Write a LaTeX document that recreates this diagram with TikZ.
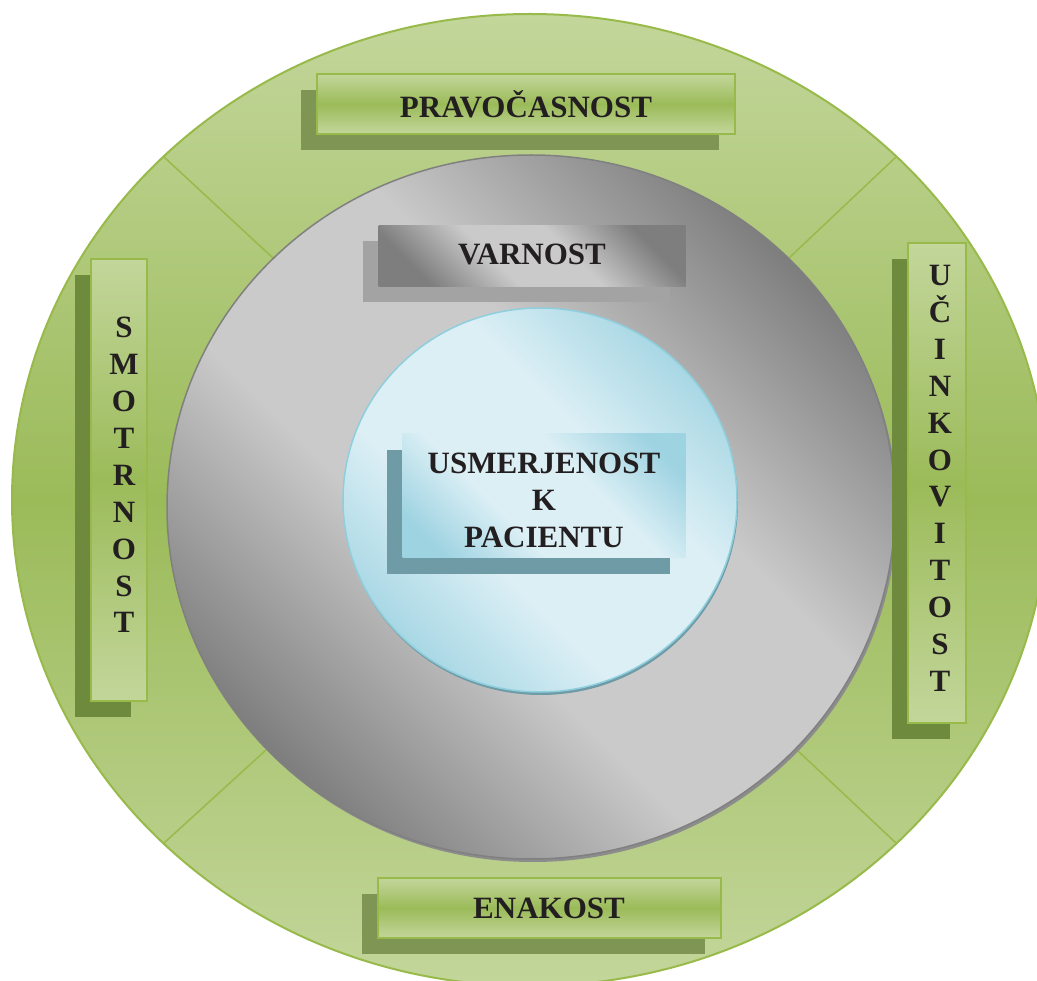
\documentclass[tikz,border=0pt]{standalone}
\usepackage{fontspec}
\setmainfont{Liberation Serif}
\usetikzlibrary{shadows}

\definecolor{gLight}{HTML}{C3D69B}
\definecolor{gMid}{HTML}{9BBB59}
\definecolor{gLine}{HTML}{98BA4A}
\definecolor{shOlive}{HTML}{7F9553}
\definecolor{shGreen}{HTML}{6E8B3D}
\definecolor{mDark}{HTML}{7E7E7E}
\definecolor{mLight}{HTML}{CACACA}
\definecolor{cDark}{HTML}{9ED3E1}
\definecolor{cLight}{HTML}{DCEFF5}
\definecolor{cLine}{HTML}{8ECEDD}
\definecolor{shTeal}{HTML}{6E9BA6}
\definecolor{shGray}{HTML}{A3A3A3}
\definecolor{txt}{HTML}{231F20}

\pgfdeclarehorizontalshading{metal}{100bp}{color(0bp)=(mDark); color(25bp)=(mDark); color(42bp)=(mLight); color(58bp)=(mLight); color(75bp)=(mDark); color(100bp)=(mDark)}
\pgfdeclarehorizontalshading{aqua}{100bp}{color(0bp)=(cDark); color(22bp)=(cDark); color(40bp)=(cLight); color(60bp)=(cLight); color(78bp)=(cDark); color(100bp)=(cDark)}

\begin{document}
\begin{tikzpicture}[x=1pt, y=-1pt,
	every node/.style={font=\fontsize{31}{37}\selectfont\bfseries, text=txt, inner sep=0pt},
	greenbox/.style={draw=gLine, line width=2pt, top color=gLight, bottom color=gLight, middle color=gMid,
		drop shadow={shadow xshift=-16pt, shadow yshift=-16pt, fill=#1, opacity=1}},
	greenbox/.default=shOlive,
	vtext/.style={align=center, anchor=north, font=\fontsize{31}{36.9}\selectfont\bfseries},
	part/.style={draw=gLine, line width=1.5pt}]
	\useasboundingbox (0,0) rectangle (1037,981);
	\clip (0,0) rectangle (1037,981);
	% outer ring
	\shade[draw=gLine, line width=2pt, top color=gLight, bottom color=gLight, middle color=gMid] (530,500) ellipse [x radius=518, y radius=486];
	\draw[part] (164,157) -- (273,258);
	\draw[part] (896,157) -- (789,258);
	\draw[part] (164,843) -- (266,750);
	\draw[part] (896,843) -- (797,750);
	% middle ring
	\fill[black!45] (533,510) ellipse [x radius=364, y radius=352];
	\shade[shading=metal, shading angle=45, draw=black!50, line width=1.5pt] (531,507) ellipse [x radius=364, y radius=352];
	% inner circle
	\fill[shTeal] (541,503) ellipse [x radius=197, y radius=192];
	\shade[shading=aqua, shading angle=45, draw=cLine, line width=1.5pt] (540,500) ellipse [x radius=197, y radius=192];
	% boxes
	\node[greenbox, minimum width=418, minimum height=60] (pravo) at (526,104) {PRAVOČASNOST};
	\node[greenbox, minimum width=343, minimum height=60] (enako) at (549,908) {ENAKOST};
	\node[shading=metal, shading angle=45, minimum width=307, minimum height=61,
		drop shadow={shadow xshift=-16pt, shadow yshift=-16pt, fill=shGray, opacity=1}] (varno) at (532,256) {};
	\node (varnoText) at (532,254) {VARNOST};
	\node[shading=aqua, shading angle=45, minimum width=283, minimum height=124,
		drop shadow={shadow xshift=-16pt, shadow yshift=-16pt, fill=shTeal, opacity=1}] (usmer) at (544,496) {};
	\node[align=center] (usmerText) at (544,500) {USMERJENOST\\K\\PACIENTU};
	\node[greenbox=shGreen, minimum width=56, minimum height=442] (smotrBox) at (119,480) {};
	\node[greenbox=shGreen, minimum width=58, minimum height=479] (ucinBox) at (937,483) {};
	\node[vtext] (smotr) at (124,317) {S\\M\\O\\T\\R\\N\\O\\S\\T};
	\node[vtext] (ucin) at (940,265) {U\\Č\\I\\N\\K\\O\\V\\I\\T\\O\\S\\T};
\end{tikzpicture}
\end{document}
